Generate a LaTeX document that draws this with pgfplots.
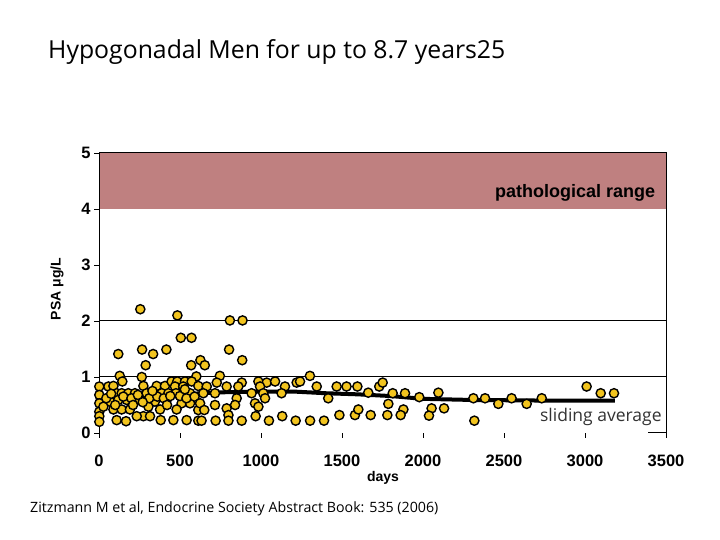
\documentclass[border=0pt]{standalone}
\usepackage{pgfplots}
\pgfplotsset{compat=1.18}
\usepackage{fontspec}
\setmainfont{Liberation Sans}
\newfontfamily\osans{Open Sans}
\definecolor{band}{RGB}{191,128,128}
\definecolor{dot}{RGB}{242,196,30}
\begin{document}
\begin{tikzpicture}[x=1pt,y=1pt]
\path[use as bounding box] (0pt,0pt) rectangle (720pt,540pt);
\node[anchor=base west,inner sep=0pt,font=\osans\fontsize{24.8}{24.8}\selectfont] at (48pt,481pt) {Hypogonadal Men for up to 8.7 years25};
\node[anchor=base west,inner sep=0pt,font=\osans\fontsize{14.2}{14.2}\selectfont] at (30pt,27pt) {Zitzmann M et al, Endocrine Society Abstract Book: 535 (2006)};
\node[font=\bfseries\fontsize{14}{14}\selectfont] at (383pt,62pt) {days};
\node[rotate=90,font=\bfseries\fontsize{14}{14}\selectfont] at (57pt,251pt) {PSA μg/L};
\begin{axis}[at={(99pt,107pt)}, anchor=south west, scale only axis,
  width=567pt, height=280pt,
  xmin=0, xmax=3500, ymin=0, ymax=5,
  clip=false,
  axis line style={draw=none},
  xtick={0,500,...,3500}, ytick={0,1,...,5},
  xtick pos=bottom, ytick pos=left, tick align=outside,
  major tick length=5pt,
  tick style={black, line width=0.9pt},
  /pgf/number format/assume math mode=true,
  /pgf/number format/1000 sep={},
  ticklabel style={font=\bfseries\fontsize{16.5}{16.5}\selectfont},
  xticklabel style={yshift=-13pt},
]
\fill[band] (axis cs:0,4) rectangle (axis cs:3500,5);
\draw[black, line width=1pt] (axis cs:0,1) -- (axis cs:3500,1);
\draw[black, line width=1pt] (axis cs:0,2) -- (axis cs:3500,2);
\draw[black, line width=1pt] (axis cs:0,0) -- (axis cs:0,5) -- (axis cs:3500,5) -- (axis cs:3500,0) -- (axis cs:3390,0);
\node[anchor=east, font=\bfseries\fontsize{18}{18}\selectfont] at (axis cs:3455,4.29) {pathological range};
\node[anchor=east, fill=white, inner sep=1pt, text=black!80, font=\osans\fontsize{17.5}{17.5}\selectfont] at (axis cs:3480,0.29) {sliding average};
\addplot[black, line width=4pt, no marks] coordinates {
(56,0.60) (200,0.63) (350,0.64) (500,0.67) (620,0.71) (800,0.73) (1000,0.74) (1200,0.74) (1400,0.71) (1600,0.69) (1800,0.66) (2000,0.61) (2300,0.59) (2700,0.58) (3185,0.58)
};
\addplot[only marks, mark=*, mark size=4.6pt, mark options={fill=dot, draw=black, line width=1.4pt}] table {
x y
255 2.21
484 2.10
505 1.70
571 1.70
808 2.01
886 2.01
119 1.41
266 1.49
334 1.41
416 1.49
288 1.21
569 1.21
626 1.30
653 1.21
803 1.49
884 1.30
128 1.02
144 0.92
264 1.00
601 1.01
746 1.02
1302 1.02
2 0.83
2 0.68
2 0.53
2 0.38
2 0.30
2 0.20
58 0.83
89 0.84
109 0.71
140 0.71
181 0.71
222 0.71
274 0.84
356 0.84
407 0.84
448 0.92
483 0.92
531 0.92
572 0.92
469 0.83
520 0.83
294 0.71
335 0.71
387 0.71
428 0.71
475 0.71
562 0.71
68 0.56
119 0.59
171 0.59
253 0.59
345 0.56
418 0.59
510 0.53
89 0.42
140 0.42
191 0.42
305 0.47
377 0.42
479 0.42
562 0.53
613 0.41
109 0.23
167 0.21
274 0.30
315 0.30
381 0.23
459 0.23
541 0.23
233 0.30
27 0.47
613 0.22
150 0.65
200 0.62
240 0.68
310 0.62
360 0.65
400 0.62
440 0.66
500 0.66
540 0.62
590 0.65
45 0.62
75 0.70
100 0.50
210 0.50
270 0.55
330 0.75
420 0.50
530 0.78
613 0.84
665 0.83
727 0.90
788 0.83
881 0.90
984 0.92
1035 0.90
1087 0.92
1148 0.83
1220 0.90
994 0.83
644 0.71
716 0.71
860 0.83
942 0.71
1014 0.71
1127 0.71
624 0.53
716 0.50
788 0.44
850 0.62
840 0.50
963 0.53
984 0.47
1025 0.62
650 0.41
799 0.32
633 0.22
720 0.22
799 0.22
881 0.22
967 0.30
1049 0.22
1131 0.30
1214 0.22
1241 0.92
1344 0.83
1467 0.83
1528 0.83
1595 0.83
1730 0.83
1751 0.90
1415 0.62
1662 0.72
1813 0.71
1889 0.71
1786 0.52
1879 0.42
1303 0.22
1389 0.22
1484 0.32
1580 0.32
1601 0.42
1677 0.32
1780 0.32
1862 0.32
1977 0.64
2095 0.72
2053 0.44
2037 0.31
2130 0.44
2311 0.62
2317 0.22
2383 0.62
2465 0.52
2547 0.62
2640 0.52
2733 0.62
3010 0.83
3097 0.71
3179 0.71
};
\end{axis}
\end{tikzpicture}
\end{document}
